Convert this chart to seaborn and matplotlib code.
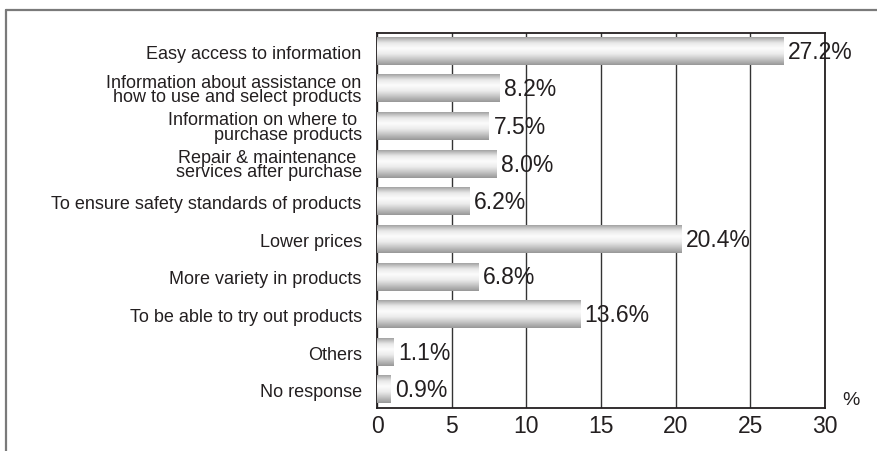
import numpy as np
import pandas as pd
import matplotlib.pyplot as plt
import seaborn as sns
from matplotlib.colors import LinearSegmentedColormap
from matplotlib.lines import Line2D

# Chart values
categories = [
    "Easy access to information",
    "Information about assistance on\nhow to use and select products",
    "Information on where to \npurchase products",
    "Repair & maintenance \nservices after purchase",
    "To ensure safety standards of products",
    "Lower prices",
    "More variety in products",
    "To be able to try out products",
    "Others",
    "No response",
]
values = [27.2, 8.2, 7.5, 8.0, 6.2, 20.4, 6.8, 13.6, 1.1, 0.9]
xticks = [0, 5, 10, 15, 20, 25, 30]

df = pd.DataFrame({"reason": categories, "pct": values})

sns.set_theme(style="white")
plt.rcParams['font.family'] = ['Liberation Sans', 'DejaVu Sans']
ink = "#231f20"

fig = plt.figure(figsize=(8.77, 4.52), dpi=100)
ax = fig.add_axes([377 / 877, 1 - 409 / 452, (825 - 377) / 877, (409 - 34) / 452])

sns.barplot(data=df, x="pct", y="reason", orient="h", width=0.72,
            color="white", edgecolor="none", ax=ax)

# metallic gradient on each bar
grad_cmap = LinearSegmentedColormap.from_list(
    "metal", ["#a4a4a4", "#e8e8e8", "#fcfcfc", "#ececec", "#c4c4c4", "#989898"])
grad = np.linspace(0, 1, 64).reshape(-1, 1)
for p in ax.patches:
    x0, y0 = p.get_x(), p.get_y()
    x1, y1 = x0 + p.get_width(), y0 + p.get_height()
    ax.imshow(grad, cmap=grad_cmap, extent=(x0, x1, y1, y0), origin="upper",
              aspect="auto", zorder=3, interpolation="bilinear")

for i, v in enumerate(values):
    ax.text(v + 0.3, i, f"{v:.1f}%", va="center", ha="left",
            fontsize=16.5, color=ink, zorder=4)

ax.set_xlim(0, 30)
ax.set_ylim(9.48, -0.48)
ax.set_xticks(xticks)
ax.set_xlabel("")
ax.set_ylabel("")
ax.grid(axis="x", color="#333333", linewidth=1)
ax.grid(axis="y", visible=False)
ax.tick_params(axis="x", labelsize=16.5, colors=ink, length=0, pad=4)
ax.tick_params(axis="y", labelsize=13, colors=ink, length=0, pad=11)
for lab in ax.get_yticklabels():
    lab.set_linespacing(0.8)
for s in ax.spines.values():
    s.set_color(ink)
    s.set_linewidth(1.3)

fig.text(851 / 877, 1 - 401 / 452, "%", fontsize=14, color=ink, ha="center", va="center")

# outer frame (left and top edges visible)
frame = dict(color="#7a7a7a", linewidth=1.6, transform=fig.transFigure)
fig.add_artist(Line2D([6 / 877, 1.0], [1 - 11 / 452] * 2, **frame))
fig.add_artist(Line2D([6 / 877] * 2, [0, 1 - 11 / 452], **frame))

fig.savefig("out.png", dpi=100)
